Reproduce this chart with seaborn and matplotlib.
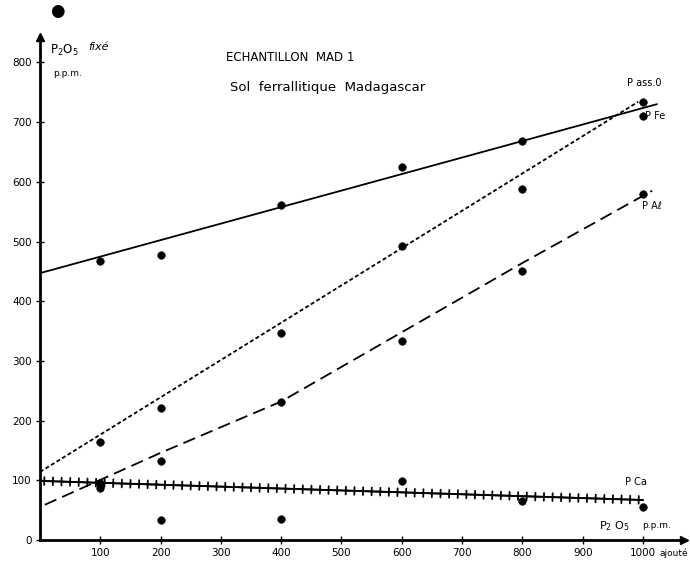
import numpy as np
import pandas as pd
import matplotlib
matplotlib.use("Agg")
import matplotlib.pyplot as plt
import matplotlib.patheffects as pe
import seaborn as sns

# P2O5 added (ppm)
added = [100, 200, 400, 600, 800, 1000]

# P2O5 fixed (ppm) for each extractant fraction
p_ass0 = [468, 477, 561, 625, 668, 734]
p_fe = [164, 221, 347, 492, 588, 710]
p_al = [95, 132, 231, 333, 451, 580]
p_ca = [87, 34, 35, 99, 65, 55]

# Fitted curves drawn through each series
fit_ass0_x, fit_ass0_y = [0, 1023], [447, 730]
fit_fe_x, fit_fe_y = [0, 992], [114, 734]
fit_al_x = [8, 200, 400, 600, 800, 1015]
fit_al_y = [59, 146, 232, 348, 464, 585]
fit_ca_x, fit_ca_y = [0, 1000], [99, 67]

x_ticks = [100, 200, 300, 400, 500, 600, 700, 800, 900, 1000]
y_ticks = [0, 100, 200, 300, 400, 500, 600, 700, 800]

sns.set_theme(style="white")
plt.rcParams["font.family"] = ["DejaVu Sans"]

W, H = 690, 563
fig = plt.figure(figsize=(W / 100, H / 100), dpi=100)
fig.patch.set_facecolor("white")

x0, y0, x1, y1 = 40, 540, 684, 37
ax = fig.add_axes([x0 / W, 1 - y0 / H, (x1 - x0) / W, (y0 - y1) / H])
ax.set_facecolor("white")
ax.set_xlim(0, (x1 - x0) / 0.603)
ax.set_ylim(0, (y0 - y1) / 0.597)

points = pd.DataFrame({
    "added": added * 4,
    "fixed": p_ass0 + p_fe + p_al + p_ca,
    "series": ["ass0"] * 6 + ["fe"] * 6 + ["al"] * 6 + ["ca"] * 6,
})
sns.scatterplot(data=points, x="added", y="fixed", color="black", s=30,
                edgecolor="black", linewidth=0.4, legend=False, ax=ax, zorder=5)

sns.lineplot(x=fit_ass0_x, y=fit_ass0_y, color="black", lw=1.3, ax=ax,
             clip_on=False)
sns.lineplot(x=fit_fe_x, y=fit_fe_y, color="black", lw=1.3, ax=ax,
             linestyle=(0, (2.2, 1.4)), clip_on=False)
sns.lineplot(x=fit_al_x, y=fit_al_y, color="black", lw=1.3, ax=ax,
             linestyle=(0, (7, 3.5)), clip_on=False)
sns.lineplot(x=fit_ca_x, y=fit_ca_y, color="black", lw=1.3, ax=ax,
             path_effects=[pe.withTickedStroke(angle=90, spacing=6.2, length=0.45, linewidth=1.3),
                           pe.withTickedStroke(angle=-90, spacing=6.2, length=0.45, linewidth=1.3)])

# axes with arrows
for side in ["top", "right"]:
    ax.spines[side].set_visible(False)
for side in ["left", "bottom"]:
    ax.spines[side].set_linewidth(2.0)
    ax.spines[side].set_color("black")
ax.plot(1, 0, ">", color="black", ms=6, transform=ax.transAxes, clip_on=False)
ax.plot(0, 1, "^", color="black", ms=6, transform=ax.transAxes, clip_on=False)

ax.set_xticks(x_ticks)
ax.set_xticklabels([str(v) for v in x_ticks])
ax.set_yticks(y_ticks)
ax.set_yticklabels([str(v) for v in y_ticks])
ax.tick_params(axis="both", direction="inout", length=6, width=1.0,
               colors="black", labelsize=7.5, pad=3)
ax.tick_params(axis="y", left=True)
ax.tick_params(axis="x", bottom=True)
ax.set_xlabel("")
ax.set_ylabel("")


def px(x, y):
    return x / W, 1 - y / H


txt = dict(color="black", family="DejaVu Sans")
fig.text(*px(290, 58), "ECHANTILLON  MAD 1", ha="center", va="center", fontsize=8.5, **txt)
fig.text(*px(328, 88), "Sol  ferrallitique  Madagascar", ha="center", va="center", fontsize=9.5, **txt)

fig.text(*px(50, 50), r"P$_2$O$_5$", ha="left", va="center", fontsize=8.5, **txt)
fig.text(*px(88, 47), "fixé", ha="left", va="center", fontsize=8, style="italic", **txt)
fig.text(*px(53, 73), "p.p.m.", ha="left", va="center", fontsize=6.5, **txt)

fig.text(*px(627, 83), "P ass.0", ha="left", va="center", fontsize=7, **txt)
fig.text(*px(645, 116), "P Fe", ha="left", va="center", fontsize=7, **txt)
fig.text(*px(642, 206), "P Aℓ", ha="left", va="center", fontsize=7, **txt)
fig.text(*px(625, 482), "P Ca", ha="left", va="center", fontsize=7, **txt)
fig.text(*px(599, 526), r"P$_2$ O$_5$", ha="left", va="center", fontsize=8, **txt)
fig.text(*px(642, 525), "p.p.m.", ha="left", va="center", fontsize=6.5, **txt)
fig.text(*px(659, 553), "ajouté", ha="left", va="center", fontsize=6.5, **txt)

# ink spot at the top of the sheet
fig.text(*px(57, 11), "●", ha="center", va="center", fontsize=12, **txt)

fig.savefig("out.png", dpi=100, facecolor="white")
